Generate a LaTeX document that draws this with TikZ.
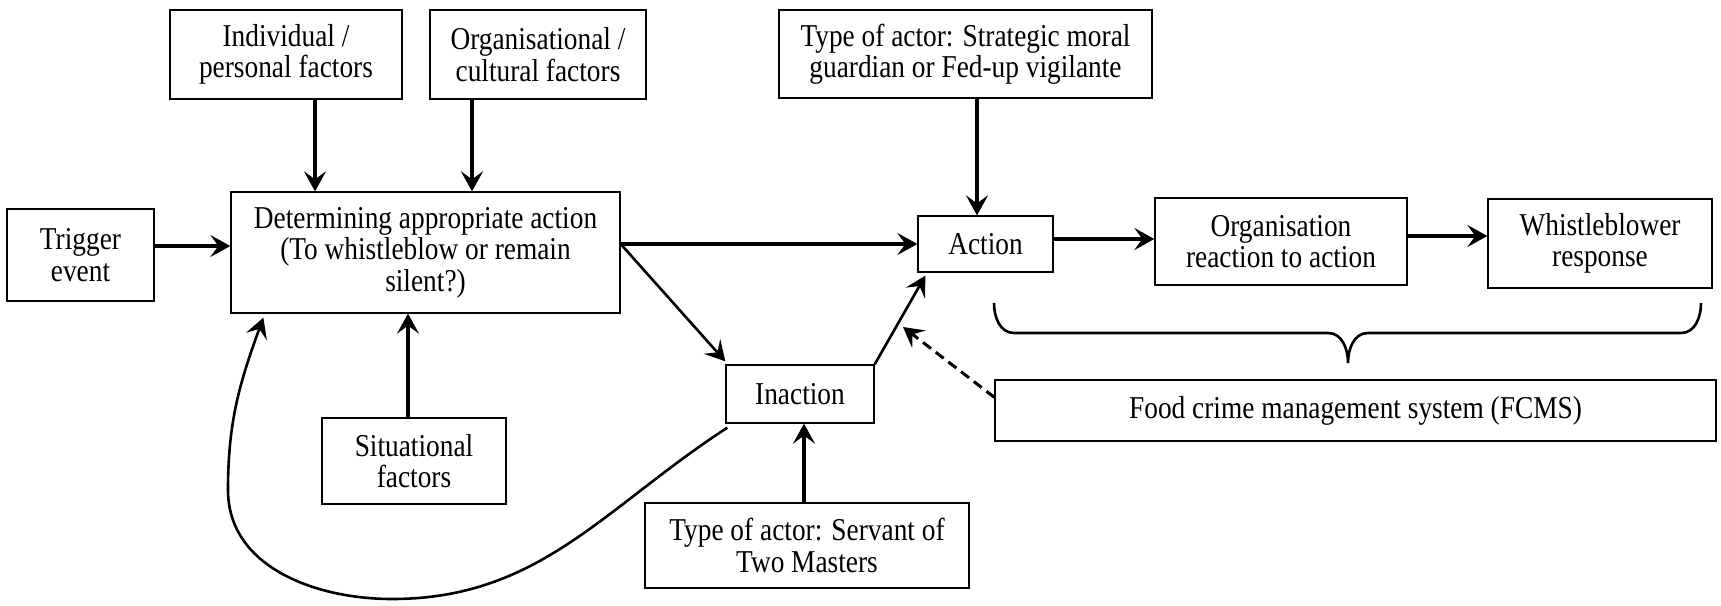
\documentclass[tikz,border=0pt]{standalone}
\usepackage{fontspec}
\setmainfont{Liberation Serif}[FakeStretch=0.86]
\usetikzlibrary{arrows.meta}
\begin{document}
\begin{tikzpicture}[x=1pt,y=-1pt,
  box/.style={draw, line width=1.3pt, inner sep=0pt, align=center, fill=white,
    font=\fontsize{31.8}{31.5}\selectfont},
  arr/.style={line width=3.4pt, -{Stealth[length=20pt,width=22pt,inset=8pt]}},
  thinarr/.style={line width=2.6pt, -{Stealth[length=20pt,width=22pt,inset=8pt]}},
  dasharr/.style={line width=3pt, dash pattern=on 10pt off 6pt, -{Stealth[length=20pt,width=22pt,inset=8pt]}},
]
\useasboundingbox (0,0) rectangle (1721,605);

% boxes
\node[box, minimum width=147pt, minimum height=92pt]  (trig)  at (80.5,255)   {Trigger\\event};
\node[box, minimum width=389pt, minimum height=121pt] (det)   at (425.5,252.5) {Determining appropriate action\\(To whistleblow or remain\\silent?)};
\node[box, minimum width=232pt, minimum height=89pt]  (indiv) at (286,54.5)   {Individual /\\personal factors};
\node[box, minimum width=216pt, minimum height=89pt]  (org)   at (538,54.5)   {Organisational /\\cultural factors};
\node[box, minimum width=373pt, minimum height=88pt]  (strat) at (965.5,54)   {Type of actor: Strategic moral\\guardian or Fed-up vigilante};
\node[box, minimum width=135pt, minimum height=56pt]  (act)   at (985.5,244)  {Action};
\node[box, minimum width=252pt, minimum height=87pt]  (orgr)  at (1281,241.5)  {Organisation\\reaction to action};
\node[box, minimum width=224pt, minimum height=89pt]  (whist) at (1600,243.5)  {Whistleblower\\response};
\node[box, minimum width=721pt, minimum height=61pt]  (fcms)  at (1355.5,410.5) {Food crime management system (FCMS)};
\node[box, minimum width=148pt, minimum height=58pt]  (inact) at (800,394)    {Inaction};
\node[box, minimum width=184pt, minimum height=86pt]  (sit)   at (414,461)    {Situational\\factors};
\node[box, minimum width=324pt, minimum height=85pt]  (serv)  at (807,545.5)  {Type of actor: Servant of\\Two Masters};

% helper coordinates
\coordinate (xa)  at (315,0);
\coordinate (xb)  at (472,0);
\coordinate (xs)  at (408,0);
\coordinate (xst) at (977,0);
\coordinate (xsv) at (804,0);
\coordinate (ya)  at (0,246);
\coordinate (yc)  at (0,239);
\coordinate (yd)  at (0,236);
\coordinate (dtip) at (903,327);

% connectors
\draw[arr] (trig.east |- ya) -- (det.west |- ya);
\draw[arr] (indiv.south -| xa) -- (det.north -| xa);
\draw[arr] (org.south -| xb) -- (det.north -| xb);
\draw[arr] (sit.north -| xs) -- (det.south -| xs);
\draw[arr] (det.east |- act.west) -- (act.west);
\draw[thinarr] (det.east |- act.west) -- ([yshift=3pt]inact.north west);
\draw[thinarr] (inact.north east) -- ([xshift=8pt,yshift=-3pt]act.south west);
\draw[dasharr] ([yshift=-18pt]fcms.north west) -- (dtip);
\draw[arr] (strat.south -| xst) -- (act.north -| xst);
\draw[arr] (act.east |- yc) -- (orgr.west |- yc);
\draw[arr] (orgr.east |- yd) -- (whist.west |- yd);
\draw[arr] (serv.north -| xsv) -- (inact.south -| xsv);
\draw[thinarr] ([xshift=2pt,yshift=-4pt]inact.south west)
   to[out=213,in=0] (392,599)
   to[out=180,in=270] (228,490)
   to[out=90,in=250] ([xshift=33pt,yshift=-4pt]det.south west);

% brace
\draw[line width=2.6pt]
  (994,303) to[out=270,in=180] (1014,333) -- (1328,333) to[out=0,in=90] (1348,363)
  (1348,363) to[out=90,in=180] (1368,333) -- (1681,333) to[out=0,in=270] (1701,303);
\end{tikzpicture}
\end{document}
